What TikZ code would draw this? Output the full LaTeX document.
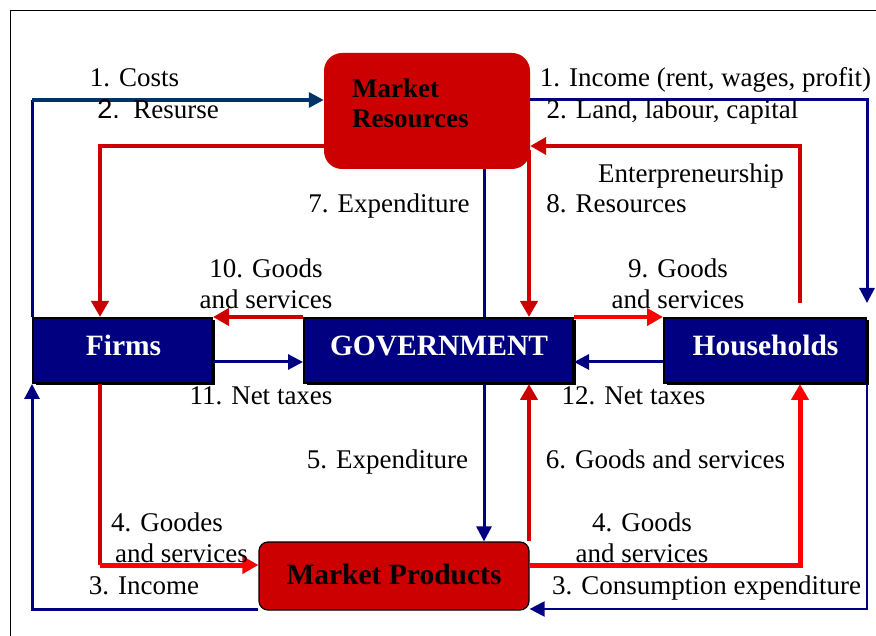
\documentclass[tikz,border=0pt]{standalone}
\usepackage{fontspec}
\setmainfont{Liberation Serif}
\newfontfamily\arialf{Liberation Sans}
\usetikzlibrary{arrows.meta,shadows}
\definecolor{navyc}{HTML}{000080}
\definecolor{costc}{HTML}{003366}
\definecolor{dredc}{HTML}{CC0000}
\definecolor{bredc}{HTML}{FF0000}
\tikzset{
  lbl/.style={font=\fontsize{27}{31}\selectfont, inner sep=0pt, text=black},
  boxtxt/.style={font=\fontsize{29.5}{32}\selectfont\bfseries, inner sep=0pt, anchor=base},
  agent/.style={draw=black, line width=2pt, fill=navyc, rectangle, minimum height=65pt,
    general shadow={fill=black, shadow xshift=2.5pt, shadow yshift=-2.5pt}},
  mrbox/.style={rectangle, rounded corners=18pt, fill=dredc, minimum width=206pt, minimum height=116pt},
  mpbox/.style={rectangle, rounded corners=9pt, fill=dredc, draw=black, line width=1.2pt, minimum width=270pt, minimum height=68pt},
  bluetip/.style={-{Triangle[length=15pt,width=15pt]}},
  redtip/.style={-{Triangle[length=16pt,width=17pt]}},
  navyline/.style={draw=navyc, line width=3pt},
  thinnavy/.style={draw=navyc, line width=2.2pt},
  costline/.style={draw=costc, line width=3.2pt},
  redline/.style={draw=dredc, line width=4pt},
  brightline/.style={draw=bredc, line width=4pt},
  thickbright/.style={draw=bredc, line width=5pt},
}
\begin{document}
\begin{tikzpicture}[x=1pt,y=-1pt]
\useasboundingbox (0,0) rectangle (876,636);
\fill[white] (0,0) rectangle (876,636);
\draw[line width=1.5pt] (876,10.5) -- (10.5,10.5) -- (10.5,636);

% helper coordinates
\coordinate (x32) at (32,0);
\coordinate (x100) at (100,0);
\coordinate (x484) at (484,0);
\coordinate (x529) at (529,0);
\coordinate (x800) at (800,0);
\coordinate (x866) at (867,0);
\coordinate (y100) at (0,100);
\coordinate (y146) at (0,146);
\coordinate (y150) at (0,150);
\coordinate (y303) at (0,303);
\coordinate (y362) at (0,362);
\coordinate (y565) at (0,565);
\coordinate (y609) at (0,609);

% boxes
\node[mrbox] (mr) at (427,111) {};
\node[agent, minimum width=179pt] (firms) at (122.5,350.5) {};
\node[agent, minimum width=269pt] (gov) at (438.5,350.5) {};
\node[agent, minimum width=202pt] (hh) at (765,350.5) {};
\node[mpbox] (mp) at (394,576) {};

\node[lbl, font=\fontsize{27}{31}\selectfont\bfseries, align=left, anchor=west] (mrt) at (352,103.3) {Market\\Resources};
\node[boxtxt, text=white] (firmst) at (123.5,356) {Firms};
\node[boxtxt, text=white] (govt) at (439,356) {GOVERNMENT};
\node[boxtxt, text=white] (hht) at (765.5,356) {Households};
\node[boxtxt, text=black] (mpt) at (394,584) {Market Products};

% 1. Costs (firms -> market resources)
\draw[navyline] (firms.north -| x32) -- (x32 |- y100);
\draw[costline, bluetip] (x32 |- y100) -- (mr.west |- y100);
% 1. Income (market resources -> households)
\draw[navyline, bluetip] (mr.east |- y100) -- (x866 |- y100) -- (x866 |- y303);
% 2. Resources to firms
\draw[redline, redtip] (mr.west |- y146) -- (x100 |- y146) -- (firms.north -| x100);
% 2. Land, labour, capital from households
\draw[redline, redtip] (x800 |- y303) -- (x800 |- y146) -- (mr.east |- y146);
% 7. / 5. Expenditure
\draw[navyline] (mr.south -| x484) -- (gov.north -| x484);
\draw[navyline, bluetip] (gov.south -| x484) -- (mp.north -| x484);
% 8. Resources
\draw[redline, redtip] (x529 |- y150) -- (gov.north -| x529);
% 10. Goods and services
\draw[redline, redtip] (gov.north west) -- (firms.north east);
% 9. Goods and services
\draw[brightline, redtip] (gov.north east) -- (hh.north west);
% 11. Net taxes
\draw[navyline, bluetip] (firms.east |- y362) -- (gov.west |- y362);
% 12. Net taxes
\draw[navyline, bluetip] (hh.west |- y362) -- (gov.east |- y362);
% 6. Goods and services
\draw[redline, redtip] (mp.north -| x529) -- (gov.south -| x529);
% 4. Goodes and services (firms -> market products)
\draw[redline] (firms.south -| x100) -- (x100 |- y565);
\draw[thickbright, redtip] (x100 |- y565) -- (mp.west |- y565);
% 4. Goods and services (market products -> households)
\draw[thickbright, redtip] (mp.east |- y565) -- (x800 |- y565) -- (hh.south -| x800);
% 3. Income (market products -> firms)
\draw[navyline, bluetip] (mp.west |- y609) -- (x32 |- y609) -- (firms.south -| x32);
% 3. Consumption expenditure (households -> market products)
\draw[thinnavy, bluetip] (hh.south -| x866) -- (x866 |- y609) -- (mp.east |- y609);

% labels
\node[lbl, anchor=base] (l1) at (134.5,87) {1. Costs};
\node[lbl, anchor=base] (l2) at (158,119) {{\arialf 2.}\ \ Resurse};
\node[lbl, anchor=base] (l3) at (705.5,87) {1. Income (rent, wages, profit)};
\node[lbl, anchor=base] (l4) at (672.5,119) {2. Land, labour, capital};
\node[lbl, anchor=base] (l5) at (691,183) {Enterpreneurship};
\node[lbl, anchor=base] (l6) at (616.5,213) {8. Resources};
\node[lbl, anchor=base] (l7) at (389,213) {7. Expenditure};
\node[lbl, align=center] (l8) at (266,283.3) {10. Goods\\and services};
\node[lbl, align=center] (l9) at (678,283.3) {9. Goods\\and services};
\node[lbl, anchor=base] (l10) at (261,404) {11. Net taxes};
\node[lbl, anchor=base] (l11) at (633.5,404) {12. Net taxes};
\node[lbl, anchor=base] (l12) at (387.5,468) {5. Expenditure};
\node[lbl, anchor=base] (l13) at (665.5,468) {6. Goods and services};
\node[lbl, align=left, anchor=west] (l14) at (111,537.3) {4. Goodes\\\hspace*{4pt}and services};
\node[lbl, align=center] (l15) at (642,537.3) {4. Goods\\and services};
\node[lbl, anchor=base] (l16) at (144,594) {3. Income};
\node[lbl, anchor=base] (l17) at (706.5,594) {3. Consumption expenditure};
\end{tikzpicture}
\end{document}
